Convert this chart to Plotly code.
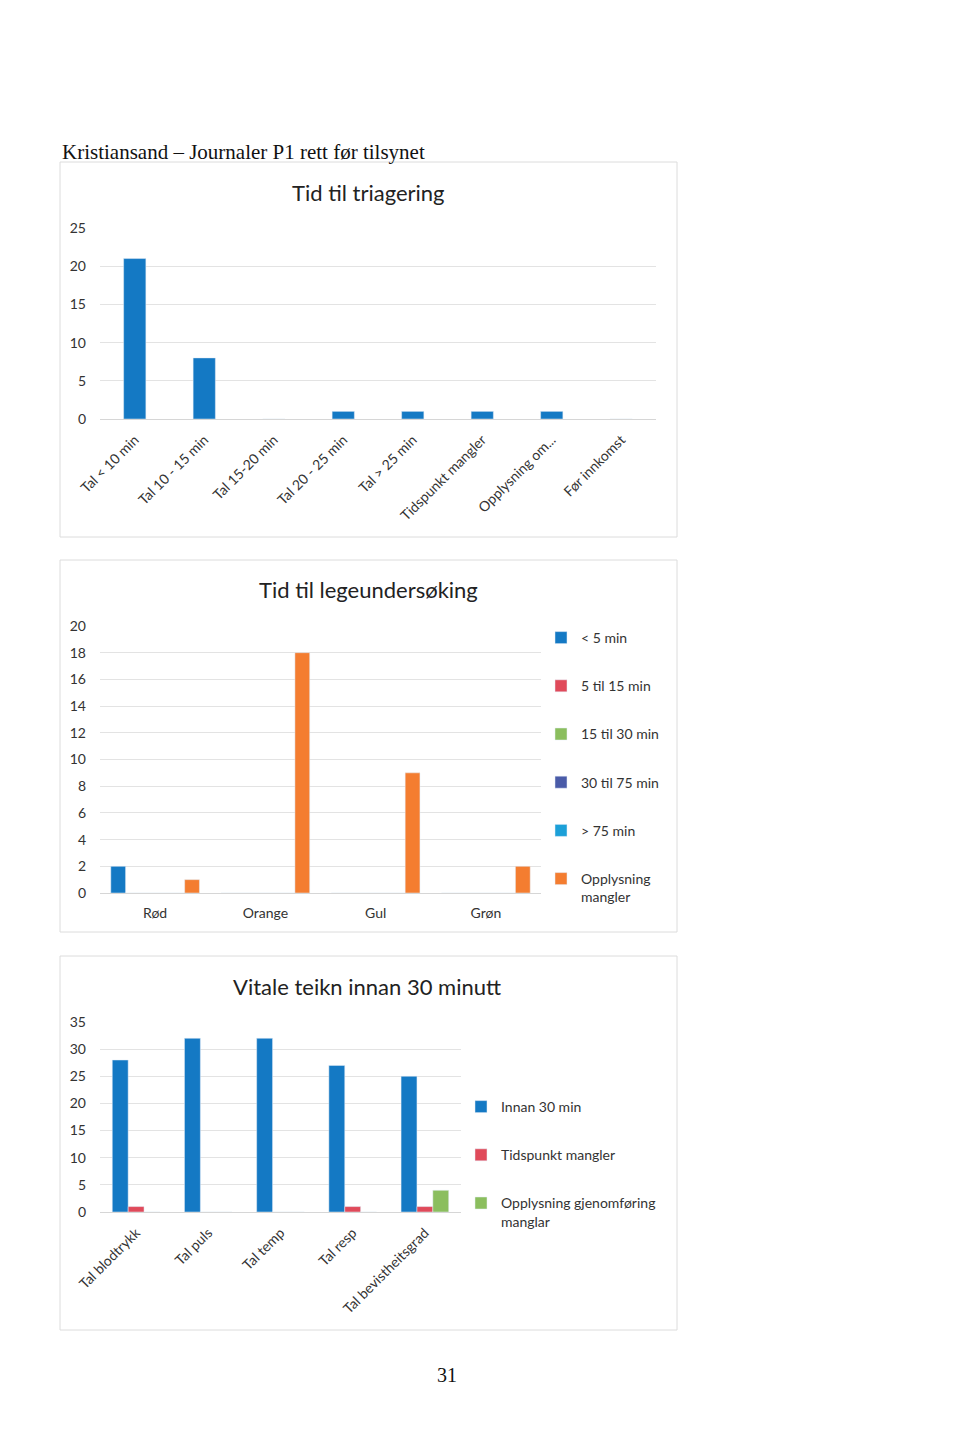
import plotly.graph_objects as go

# The page body adds an 8px margin; the figure is sized to fit inside the window
OFF = 8
W, H = 960 - OFF, 1452 - 2 * OFF
def px(x): return (x - OFF) / W
def py(y): return 1 - (y - OFF) / H

# ---------- data ----------
tri_cats = ["Tal < 10 min", "Tal 10 - 15 min", "Tal 15-20 min", "Tal 20 - 25 min",
            "Tal > 25 min", "Tidspunkt mangler", "Opplysning om...", "Før innkomst"]
tri_vals = [21, 8, 0, 1, 1, 1, 1, 0]

lege_cats = ["Rød", "Orange", "Gul", "Grøn"]
lege_series = ["< 5 min", "5 til 15 min", "15 til 30 min", "30 til 75 min", "> 75 min", "Opplysning mangler"]
lege_lt5 = [2, 0, 0, 0]
lege_5_15 = [0, 0, 0, 0]
lege_15_30 = [0, 0, 0, 0]
lege_30_75 = [0, 0, 0, 0]
lege_gt75 = [0, 0, 0, 0]
lege_mangler = [1, 18, 9, 2]

vit_cats = ["Tal blodtrykk", "Tal puls", "Tal temp", "Tal resp", "Tal bevistheitsgrad"]
vit_series = ["Innan 30 min", "Tidspunkt mangler", "Opplysning gjenomføring manglar"]
vit_innan = [28, 32, 32, 27, 25]
vit_tid = [1, 0, 0, 1, 1]
vit_oppl = [0, 0, 0, 0, 4]

# ---------- style ----------
BLUE = "#1479C4"
RED = "#E04A5A"
GREEN = "#8BBE5E"
DBLUE = "#4A5BA8"
CYAN = "#1CA0D8"
ORANGE = "#F47D30"
FONT = "Lato, Open Sans, sans-serif"
TXT = "#333333"
GRID = "#e3e3e3"

fig = go.Figure()

# Chart 1
fig.add_trace(go.Bar(x=tri_cats, y=tri_vals, marker_color=BLUE, width=0.32,
                     xaxis="x", yaxis="y", showlegend=False, name="Tid til triagering"))

# Chart 2
lege_vals = [lege_lt5, lege_5_15, lege_15_30, lege_30_75, lege_gt75, lege_mangler]
lege_cols = [BLUE, RED, GREEN, DBLUE, CYAN, ORANGE]
bw2 = 0.134
for i, (nm, vals, c) in enumerate(zip(lege_series, lege_vals, lege_cols)):
    label = "Opplysning<br>mangler" if nm == "Opplysning mangler" else nm
    fig.add_trace(go.Bar(x=lege_cats, y=vals, name=label, marker_color=c,
                         width=bw2, offset=-0.402 + i * bw2,
                         xaxis="x2", yaxis="y2", legend="legend2", legendgroup="l2_%d" % i))

# Chart 3
vit_vals = [vit_innan, vit_tid, vit_oppl]
vit_cols = [BLUE, RED, GREEN]
bw3 = 0.22
for i, (nm, vals, c) in enumerate(zip(vit_series, vit_vals, vit_cols)):
    label = "Opplysning gjenomføring<br>manglar" if i == 2 else nm
    fig.add_trace(go.Bar(x=vit_cats, y=vals, name=label, marker_color=c,
                         width=bw3, offset=-0.33 + i * bw3,
                         xaxis="x3", yaxis="y3", legend="legend3", legendgroup="l3_%d" % i))

def yax(dom, rng, dt):
    return dict(domain=dom, range=rng, dtick=dt, showgrid=True, gridcolor=GRID, gridwidth=1,
                zeroline=True, zerolinecolor="#d6d6d6", zerolinewidth=1, showline=False,
                ticks="", tickfont=dict(family=FONT, size=14, color=TXT), fixedrange=True,
                automargin=False, ticklabelstandoff=13)

def xax(dom, anchor, angle, n, standoff):
    return dict(domain=dom, anchor=anchor, tickangle=angle, showgrid=False, zeroline=False,
                showline=False, ticks="", type="category", range=[-0.5, n - 0.5],
                tickfont=dict(family=FONT, size=14, color=TXT), fixedrange=True,
                automargin=False, ticklabelstandoff=standoff)

leg_common = dict(xanchor="left", yanchor="top", tracegroupgap=27,
                  font=dict(family=FONT, size=14, color=TXT), bgcolor="rgba(0,0,0,0)",
                  itemwidth=30, traceorder="grouped", valign="top")

fig.update_layout(
    width=W, height=H, margin=dict(l=0, r=0, t=0, b=0, autoexpand=False),
    paper_bgcolor="white", plot_bgcolor="white", barmode="overlay",
    xaxis=xax([px(100), px(656)], "y", -45, len(tri_cats), 9),
    yaxis=yax([py(419), py(228)], [0, 25], 5),
    xaxis2=xax([px(100), px(541)], "y2", 0, len(lege_cats), 10),
    yaxis2=yax([py(893), py(626)], [0, 20], 2),
    xaxis3=xax([px(100), px(461)], "y3", -45, len(vit_cats), 9),
    yaxis3=yax([py(1212), py(1022)], [0, 35], 5),
    legend2=dict(x=px(541), y=py(622), **leg_common),
    legend3=dict(x=px(461), y=py(1091), **leg_common),
    showlegend=True,
)

# chart boxes
for (y0, y1) in [(162, 537), (560, 932), (956, 1330)]:
    fig.add_shape(type="rect", xref="paper", yref="paper", x0=px(60), x1=px(677),
                  y0=py(y1), y1=py(y0), line=dict(color="#dcdcdc", width=1), layer="below")
# page edge
fig.add_shape(type="rect", xref="paper", yref="paper", x0=px(956), x1=px(958), y0=py(1452), y1=1,
              line=dict(width=0), fillcolor="#9a9a9a")
fig.add_shape(type="rect", xref="paper", yref="paper", x0=px(958), x1=1, y0=py(1452), y1=1,
              line=dict(width=0), fillcolor="#ececec")

ann = [
    dict(text="Kristiansand – Journaler P1 rett før tilsynet", x=px(60), y=py(152),
         xanchor="left", font=dict(family="Liberation Serif, serif", size=21, color="#111")),
    dict(text="Tid til triagering", x=px(368), y=py(192), xanchor="center",
         font=dict(family=FONT, size=22, color="#222")),
    dict(text="Tid til legeundersøking", x=px(368), y=py(589), xanchor="center",
         font=dict(family=FONT, size=22, color="#222")),
    dict(text="Vitale teikn innan 30 minutt", x=px(367), y=py(986), xanchor="center",
         font=dict(family=FONT, size=22, color="#222")),
    dict(text="31", x=px(447), y=py(1375), xanchor="center",
         font=dict(family="Liberation Serif, serif", size=20, color="#111")),
]
for a in ann:
    fig.add_annotation(xref="paper", yref="paper", yanchor="middle", showarrow=False, **a)

fig.write_html("out.html")
